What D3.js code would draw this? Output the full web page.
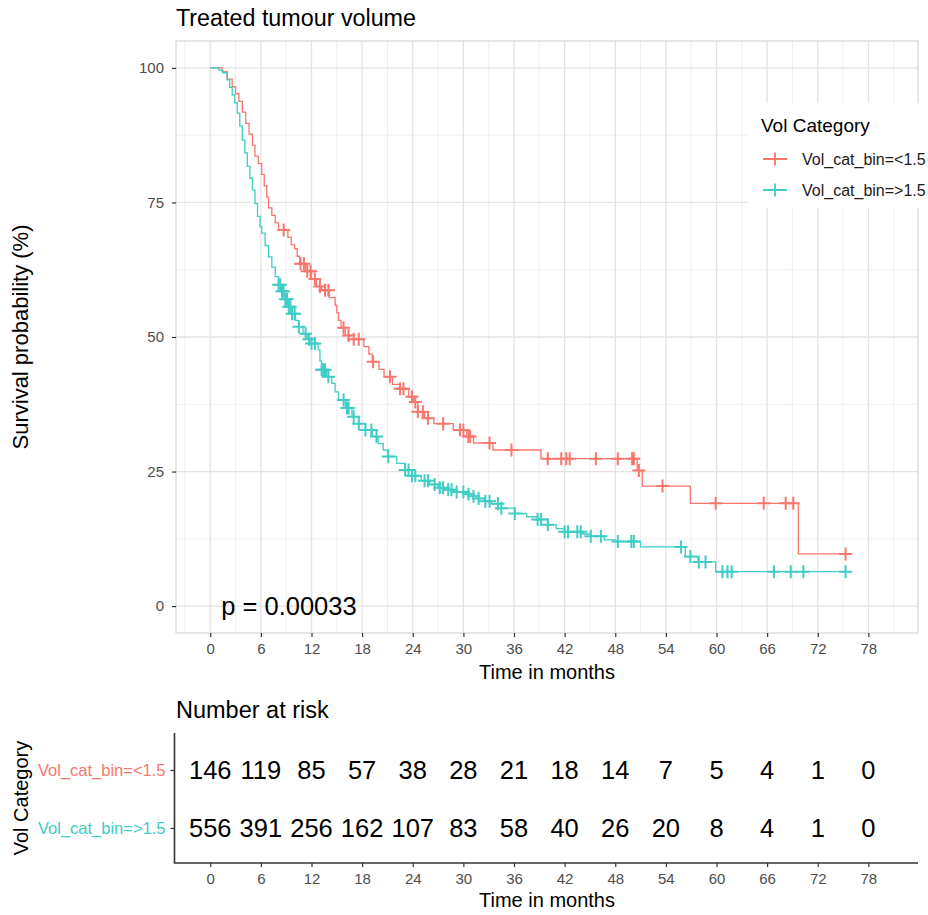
<!DOCTYPE html>
<html>
<head>
<meta charset="utf-8">
<script src="https://cdn.jsdelivr.net/npm/d3@7"></script>
<style>
    body { margin: 0; background: #ffffff; }
    svg { display: block; font-family: "Liberation Sans", Arial, Helvetica, sans-serif; }
</style>
</head>
<body>
<svg id="chart" width="928" height="915"></svg>
<script>
// groups and colours
const groupNames = ["Vol_cat_bin=<1.5", "Vol_cat_bin=>1.5"];
const groupColors = ["#F8766D", "#3FCDC5"];

// axis ticks
const xTicks = [0, 6, 12, 18, 24, 30, 36, 42, 48, 54, 60, 66, 72, 78];
const yTicks = [0, 25, 50, 75, 100];

// Kaplan-Meier steps [months, survival %]
const stepsLow = [
    [0, 100], [1.4, 99.3], [2.0, 97.9], [2.6, 96.5], [3.0, 95.2], [3.4, 93.8], [3.8, 91.8],
    [4.2, 89.7], [4.6, 87.7], [5.0, 85.6], [5.3, 83.6], [5.7, 82.2], [6.1, 80.2], [6.4, 78.1],
    [6.7, 76.0], [6.9, 74.0], [7.3, 72.6], [7.7, 71.2], [8.1, 69.9], [9.2, 68.5], [9.6, 67.1],
    [10.0, 66.4], [10.3, 65.0], [10.6, 63.6], [11.3, 62.2], [12.0, 60.8], [12.6, 59.4],
    [13.2, 58.7], [14.1, 57.3], [14.8, 55.9], [15.0, 54.5], [15.2, 53.1], [15.5, 51.7],
    [16.0, 50.3], [17.0, 49.6], [18.2, 48.2], [18.8, 46.8], [19.2, 45.4], [20.0, 44.0],
    [20.6, 42.6], [21.6, 41.2], [22.5, 40.4], [23.5, 38.9], [24.1, 37.9], [24.6, 36.1],
    [25.4, 34.9], [26.5, 33.9], [28.8, 32.7], [30.4, 31.5], [31.2, 30.3], [33.5, 29.0],
    [39.2, 27.4], [50.6, 25.2], [51.2, 22.3], [56.9, 19.1], [69.7, 9.7], [75.3, 9.7]
];
const censorLow = [
    8.7, 10.7, 11.1, 11.5, 11.9, 12.4, 13.0, 13.6, 14.0, 15.8, 16.4, 17.0, 17.6, 19.3, 21.3,
    22.5, 22.9, 23.9, 24.3, 24.6, 25.2, 25.8, 27.6, 29.6, 30.0, 30.6, 30.8, 33.1, 35.7, 40.0,
    41.6, 42.2, 42.6, 45.7, 48.3, 50.0, 50.2, 50.8, 53.6, 59.9, 65.6, 68.2, 69.1, 75.3
];

const stepsHigh = [
    [0, 100], [1.0, 99.6], [1.5, 99.1], [2.0, 97.8], [2.3, 96.4], [2.6, 95.0], [2.9, 93.5],
    [3.2, 91.6], [3.5, 89.2], [3.8, 86.6], [4.1, 84.2], [4.4, 81.7], [4.7, 79.5], [5.0, 77.3],
    [5.3, 74.8], [5.6, 72.4], [5.9, 70.5], [6.1, 69.3], [6.5, 67.0], [6.9, 64.9], [7.3, 63.0],
    [7.7, 61.2], [8.1, 59.7], [8.5, 58.5], [8.9, 57.0], [9.3, 55.6], [9.7, 54.3], [10.1, 53.1],
    [10.5, 51.9], [11.0, 50.6], [11.5, 49.6], [12.0, 48.8], [12.8, 47.6], [13.0, 45.5],
    [13.2, 43.9], [13.8, 42.6], [14.4, 41.4], [14.8, 39.8], [15.2, 38.3], [16.0, 36.8],
    [16.8, 35.2], [17.6, 33.9], [18.4, 32.7], [19.2, 31.5], [19.9, 30.2], [20.5, 29.0],
    [21.1, 27.8], [22.1, 26.5], [23.1, 25.3], [23.9, 24.2], [25.0, 23.3], [26.0, 22.6],
    [27.0, 22.0], [27.8, 21.6], [29.0, 21.2], [30.2, 20.8], [31.0, 20.4], [31.7, 20.0],
    [32.5, 19.5], [33.3, 19.0], [34.5, 18.2], [36.1, 17.2], [37.5, 16.6], [38.8, 16.1],
    [40.0, 15.1], [41.0, 14.4], [42.0, 13.8], [44.0, 13.4], [45.1, 13.0], [46.7, 12.3],
    [48.0, 12.0], [51.0, 11.0], [56.3, 9.2], [57.8, 8.2], [59.9, 6.4], [75.3, 6.4]
];
const censorHigh = [
    8.1, 8.3, 8.5, 8.7, 8.9, 9.1, 9.3, 9.5, 9.7, 10.0, 10.5, 11.3, 11.7, 12.0, 12.4, 13.2,
    13.4, 13.6, 14.0, 15.8, 16.2, 16.4, 17.0, 17.6, 18.4, 19.1, 19.7, 21.1, 23.1, 23.5, 23.9,
    24.3, 25.4, 25.8, 26.6, 27.2, 27.6, 28.2, 28.6, 29.2, 30.0, 30.6, 31.2, 31.8, 32.6, 33.1,
    34.1, 34.5, 36.1, 38.8, 39.2, 40.0, 42.0, 42.4, 43.5, 43.9, 45.1, 46.3, 48.3, 49.9, 50.2,
    55.8, 56.9, 57.9, 58.7, 60.7, 61.3, 61.8, 66.8, 68.8, 70.3, 75.3
];

// number at risk table
const riskTimes = [0, 6, 12, 18, 24, 30, 36, 42, 48, 54, 60, 66, 72, 78];
const riskLow = [146, 119, 85, 57, 38, 28, 21, 18, 14, 7, 5, 4, 1, 0];
const riskHigh = [556, 391, 256, 162, 107, 83, 58, 40, 26, 20, 8, 4, 1, 0];

const pValueText = "p = 0.00033";

const SurvPlot = {
    svg: null,
    x: null,
    y: null,
    panel: { left: 176, right: 918, top: 41, bottom: 633 },
    render: function () {
        SurvPlot.svg = d3.select("#chart");
        const p = SurvPlot.panel;

        SurvPlot.x = d3.scaleLinear()
            .domain([-4, 84])
            .range([p.left + 0.5, p.right + 1]);
        SurvPlot.y = d3.scaleLinear()
            .domain([-5, 105])
            .range([p.bottom, p.top]);

        SurvPlot.drawGrid();
        SurvPlot.drawCurves();
        SurvPlot.drawAxes();
        SurvPlot.drawLegend();
        SurvPlot.drawRiskTable();
    },
    drawGrid: function () {
        const p = SurvPlot.panel;
        const g = SurvPlot.svg.append("g");
        const x = SurvPlot.x, y = SurvPlot.y;

        const vMinor = d3.range(-3, 84, 6);
        const hMinor = d3.range(12.5, 100, 25);

        g.selectAll("line.vminor")
            .data(vMinor)
            .enter()
            .append("line")
            .attr("x1", function (d) { return x(d); })
            .attr("x2", function (d) { return x(d); })
            .attr("y1", p.top)
            .attr("y2", p.bottom)
            .attr("stroke", "#EFEFEF")
            .attr("stroke-width", 1);
        g.selectAll("line.hminor")
            .data(hMinor)
            .enter()
            .append("line")
            .attr("x1", p.left)
            .attr("x2", p.right)
            .attr("y1", function (d) { return y(d); })
            .attr("y2", function (d) { return y(d); })
            .attr("stroke", "#EFEFEF")
            .attr("stroke-width", 1);
        g.selectAll("line.vmajor")
            .data(xTicks)
            .enter()
            .append("line")
            .attr("x1", function (d) { return x(d); })
            .attr("x2", function (d) { return x(d); })
            .attr("y1", p.top)
            .attr("y2", p.bottom)
            .attr("stroke", "#E3E3E3")
            .attr("stroke-width", 1.3);
        g.selectAll("line.hmajor")
            .data(yTicks)
            .enter()
            .append("line")
            .attr("x1", p.left)
            .attr("x2", p.right)
            .attr("y1", function (d) { return y(d); })
            .attr("y2", function (d) { return y(d); })
            .attr("stroke", "#E3E3E3")
            .attr("stroke-width", 1.3);

        g.append("rect")
            .attr("x", p.left)
            .attr("y", p.top)
            .attr("width", p.right - p.left)
            .attr("height", p.bottom - p.top)
            .attr("fill", "none")
            .attr("stroke", "#D6D6D6")
            .attr("stroke-width", 1.2);
    },
    survAt: function (steps, t) {
        const i = d3.bisector(function (d) { return d[0]; }).right(steps, t) - 1;
        return steps[Math.max(i, 0)][1];
    },
    drawCurves: function () {
        const x = SurvPlot.x, y = SurvPlot.y;
        const line = d3.line()
            .x(function (d) { return x(d[0]); })
            .y(function (d) { return y(d[1]); })
            .curve(d3.curveStepAfter);

        const series = [
            { steps: stepsLow, censor: censorLow, color: groupColors[0] },
            { steps: stepsHigh, censor: censorHigh, color: groupColors[1] }
        ];

        series.forEach(function (s) {
            const g = SurvPlot.svg.append("g");
            g.append("path")
                .attr("d", line(s.steps))
                .attr("fill", "none")
                .attr("stroke", s.color)
                .attr("stroke-width", 1.3);
            g.selectAll("path.censor")
                .data(s.censor)
                .enter()
                .append("path")
                .attr("class", "censor")
                .attr("transform", function (d) {
                    return "translate(" + x(d) + "," + y(SurvPlot.survAt(s.steps, d)) + ")";
                })
                .attr("d", "M-6.5,0H6.5M0,-6.5V6.5")
                .attr("stroke", s.color)
                .attr("stroke-width", 2);
        });

        SurvPlot.svg.append("text")
            .attr("x", x(1.3))
            .attr("y", y(0) + 9)
            .attr("font-size", 25.5)
            .attr("fill", "#000")
            .text(pValueText);
    },
    drawAxes: function () {
        const p = SurvPlot.panel;
        const x = SurvPlot.x, y = SurvPlot.y;

        const yAxis = SurvPlot.svg.append("g")
            .attr("transform", "translate(" + p.left + ",0)")
            .call(d3.axisLeft(y).tickValues(yTicks).tickSize(4).tickPadding(8));
        yAxis.select(".domain").remove();
        yAxis.selectAll(".tick line").attr("stroke", "#333").attr("stroke-width", 1.2);
        yAxis.selectAll(".tick text")
            .attr("font-size", 15)
            .attr("fill", "#4D4D4D")
            .attr("font-family", "Liberation Sans, Arial, sans-serif");

        const xAxis = SurvPlot.svg.append("g")
            .attr("transform", "translate(0," + p.bottom + ")")
            .call(d3.axisBottom(x).tickValues(xTicks).tickSize(4).tickPadding(6));
        xAxis.select(".domain").remove();
        xAxis.selectAll(".tick line").attr("stroke", "#333").attr("stroke-width", 1.2);
        xAxis.selectAll(".tick text")
            .attr("font-size", 15)
            .attr("fill", "#4D4D4D")
            .attr("font-family", "Liberation Sans, Arial, sans-serif");

        SurvPlot.svg.append("text")
            .attr("x", (p.left + p.right) / 2)
            .attr("y", 679)
            .attr("text-anchor", "middle")
            .attr("font-size", 20)
            .text("Time in months");

        SurvPlot.svg.append("text")
            .attr("transform", "translate(28," + (p.top + p.bottom) / 2 + ") rotate(-90)")
            .attr("text-anchor", "middle")
            .attr("font-size", 22)
            .text("Survival probability (%)");

        SurvPlot.svg.append("text")
            .attr("x", p.left)
            .attr("y", 26)
            .attr("font-size", 23.3)
            .text("Treated tumour volume");
    },
    drawLegend: function () {
        const g = SurvPlot.svg.append("g");
        g.append("rect")
            .attr("x", 748)
            .attr("y", 103)
            .attr("width", 180)
            .attr("height", 105)
            .attr("fill", "#fff");
        g.append("text")
            .attr("x", 761)
            .attr("y", 132)
            .attr("font-size", 19)
            .text("Vol Category");

        const items = g.selectAll("g.item")
            .data(groupNames)
            .enter()
            .append("g")
            .attr("transform", function (d, i) { return "translate(775," + (159 + i * 31) + ")"; });
        items.append("path")
            .attr("d", "M-12,0H12M0,-6.5V6.5")
            .attr("stroke", function (d, i) { return groupColors[i]; })
            .attr("stroke-width", 1.8);
        items.append("text")
            .attr("x", 27)
            .attr("dy", "0.35em")
            .attr("font-size", 16)
            .attr("fill", "#1a1a1a")
            .text(function (d) { return d; });
    },
    drawRiskTable: function () {
        const p = SurvPlot.panel;
        const x = SurvPlot.x;
        const top = 733, bottom = 863;
        const yr = d3.scalePoint()
            .domain(groupNames)
            .range([770, 828]);

        SurvPlot.svg.append("text")
            .attr("x", p.left)
            .attr("y", 718)
            .attr("font-size", 23.5)
            .text("Number at risk");

        const rows = [riskLow, riskHigh];
        rows.forEach(function (vals, i) {
            SurvPlot.svg.append("g")
                .selectAll("text")
                .data(vals)
                .enter()
                .append("text")
                .attr("x", function (d, j) { return x(riskTimes[j]); })
                .attr("y", yr(groupNames[i]))
                .attr("dy", "0.36em")
                .attr("text-anchor", "middle")
                .attr("font-size", 25.5)
                .text(function (d) { return d; });
        });

        // left axis with coloured labels
        const yAxis = SurvPlot.svg.append("g")
            .attr("transform", "translate(" + (p.left - 1.5) + ",0)")
            .call(d3.axisLeft(yr).tickSize(4).tickPadding(5));
        yAxis.select(".domain").remove();
        yAxis.selectAll(".tick line").attr("stroke", "#333").attr("stroke-width", 1.2);
        yAxis.selectAll(".tick text")
            .attr("font-size", 16.5)
            .attr("font-family", "Liberation Sans, Arial, sans-serif")
            .attr("fill", function (d, i) { return groupColors[i]; });

        SurvPlot.svg.append("line")
            .attr("x1", p.left - 1.5)
            .attr("x2", p.left - 1.5)
            .attr("y1", top)
            .attr("y2", bottom)
            .attr("stroke", "#333")
            .attr("stroke-width", 1.6);
        SurvPlot.svg.append("line")
            .attr("x1", p.left - 2.3)
            .attr("x2", p.right)
            .attr("y1", bottom)
            .attr("y2", bottom)
            .attr("stroke", "#333")
            .attr("stroke-width", 1.6);

        const xAxis = SurvPlot.svg.append("g")
            .attr("transform", "translate(0," + bottom + ")")
            .call(d3.axisBottom(x).tickValues(riskTimes).tickSize(4).tickPadding(6));
        xAxis.select(".domain").remove();
        xAxis.selectAll(".tick line").attr("stroke", "#333").attr("stroke-width", 1.2);
        xAxis.selectAll(".tick text")
            .attr("font-size", 15)
            .attr("fill", "#4D4D4D")
            .attr("font-family", "Liberation Sans, Arial, sans-serif");

        SurvPlot.svg.append("text")
            .attr("x", (p.left + p.right) / 2)
            .attr("y", 907)
            .attr("text-anchor", "middle")
            .attr("font-size", 20)
            .text("Time in months");

        SurvPlot.svg.append("text")
            .attr("transform", "translate(28," + (top + bottom) / 2 + ") rotate(-90)")
            .attr("text-anchor", "middle")
            .attr("font-size", 20)
            .text("Vol Category");
    }
};

SurvPlot.render();
</script>
</body>
</html>
